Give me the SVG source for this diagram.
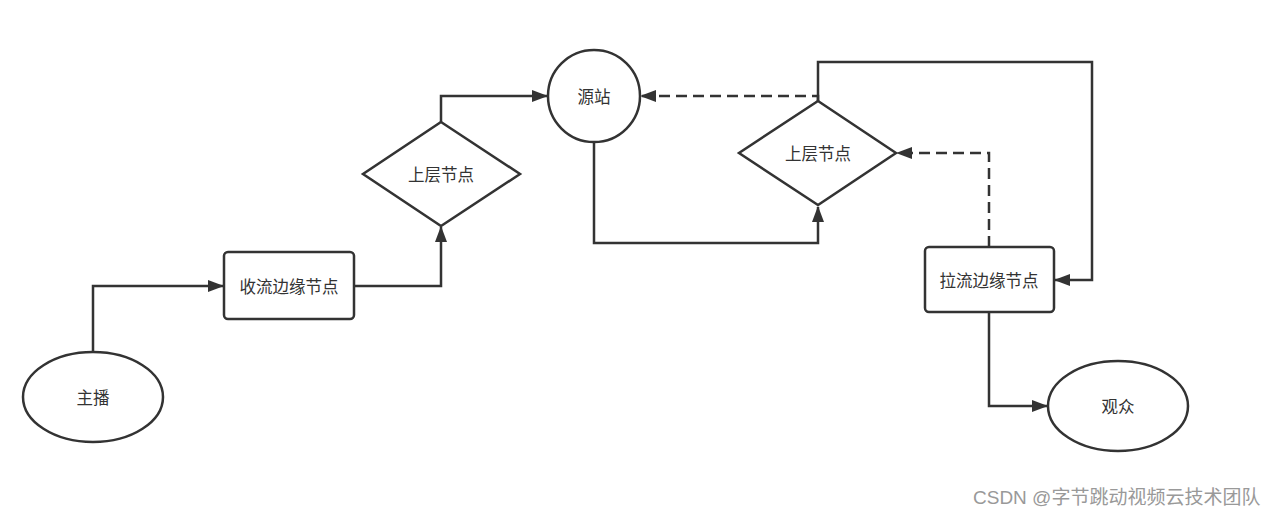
<svg xmlns="http://www.w3.org/2000/svg" width="1280" height="518" viewBox="0 0 1280 518">
<style>
.shape{fill:#fff;stroke:#333;stroke-width:2.5}
.lbl{font-family:"Noto Sans CJK SC","Liberation Sans",sans-serif;font-size:16.5px;fill:#333;text-anchor:middle;dominant-baseline:central}
.edge{fill:none;stroke:#333;stroke-width:2.5}
.dash{stroke-dasharray:11 6}
.wm{font-family:"Liberation Sans","Noto Sans CJK SC",sans-serif;font-size:19px;fill:#999}
</style>
<defs>
<marker id="arr" viewBox="0 0 16 12" refX="15" refY="6" markerWidth="16" markerHeight="12" markerUnits="userSpaceOnUse" orient="auto">
<path d="M0,0 L16,6 L0,12 Z" fill="#333"/>
</marker>
</defs>
<rect width="1280" height="518" fill="#fff"/>
<g id="connectors">
<path class="edge" d="M93,352 V286 H223" marker-end="url(#arr)"/>
<path class="edge" d="M355,286 H441 V227" marker-end="url(#arr)"/>
<path class="edge" d="M441,122 V96 H547" marker-end="url(#arr)"/>
<path class="edge" d="M594,142 V243 H818 V207" marker-end="url(#arr)"/>
<path class="edge dash" d="M818,101 V96 H641" marker-end="url(#arr)"/>
<path class="edge" d="M818,101 V62 H1092 V280 H1055" marker-end="url(#arr)"/>
<path class="edge dash" d="M989,247 V153 H897" marker-end="url(#arr)"/>
<path class="edge" d="M989,312 V406 H1047" marker-end="url(#arr)"/>
</g>
<g id="anchor">
<ellipse class="shape" cx="93" cy="397" rx="70" ry="45"/>
<text class="lbl" x="93" y="397">主播</text>
</g>
<g id="ingest-edge">
<rect class="shape" x="224" y="252" width="130" height="67" rx="4"/>
<text class="lbl" x="289" y="286">收流边缘节点</text>
</g>
<g id="upper-node-1">
<polygon class="shape" points="441,122 520,174 441,226 363,174"/>
<text class="lbl" x="441" y="174">上层节点</text>
</g>
<g id="origin">
<circle class="shape" cx="594" cy="96" r="46"/>
<text class="lbl" x="594" y="96">源站</text>
</g>
<g id="upper-node-2">
<polygon class="shape" points="818,101 896,153 818,205 739,153"/>
<text class="lbl" x="818" y="153">上层节点</text>
</g>
<g id="pull-edge">
<rect class="shape" x="925" y="247" width="129" height="65" rx="4"/>
<text class="lbl" x="989" y="280">拉流边缘节点</text>
</g>
<g id="viewer">
<ellipse class="shape" cx="1118" cy="406" rx="70" ry="45"/>
<text class="lbl" x="1118" y="406">观众</text>
</g>
<text class="wm" x="973" y="504">CSDN @字节跳动视频云技术团队</text>
</svg>
